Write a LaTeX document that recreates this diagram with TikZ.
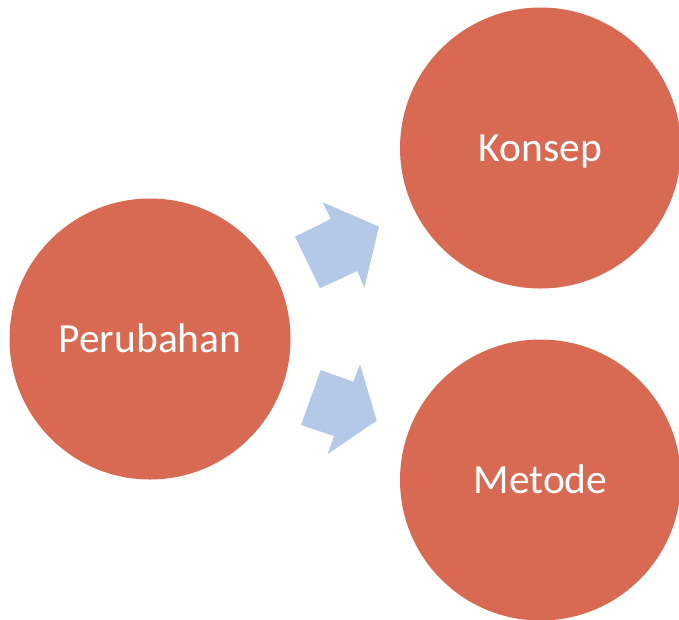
\documentclass[tikz,border=0pt]{standalone}
\usepackage{fontspec}
\setmainfont{Carlito}
\definecolor{circ}{HTML}{D86A53}
\definecolor{arr}{HTML}{B4C8E7}
\tikzset{
  bubble/.style={circle, fill=circ, draw=none, minimum size=281pt, inner sep=0pt},
  lbl/.style={anchor=base, text=white, font=\fontsize{41.5}{45}\selectfont, inner sep=0pt},
  blockarrow/.style={fill=arr, draw=none}
}
\begin{document}
\begin{tikzpicture}[x=1pt,y=-1pt]
\useasboundingbox (0,0) rectangle (679,619);
\node[bubble] (p) at (150,339) {};
\node[bubble] (k) at (540.5,148) {};
\node[bubble] (m) at (540.5,480) {};
\node[lbl] (pt) at (150,352) {Perubahan};
\node[lbl] (kt) at (540.5,161.5) {Konsep};
\node[lbl] (mt) at (540.5,493.3) {Metode};
% upper block arrow
\fill[blockarrow] (295,236.7) -- (330.7,219) -- (322.7,202.3) -- (379,226.7)
  -- (364.3,287.7) -- (357.3,271) -- (320,288.3) -- cycle;
% lower block arrow
\fill[blockarrow] (320.7,370) -- (353.3,381.7) -- (360,364.3) -- (376.7,420.7)
  -- (327.7,454) -- (334,436) -- (301,425) -- cycle;
\end{tikzpicture}
\end{document}
